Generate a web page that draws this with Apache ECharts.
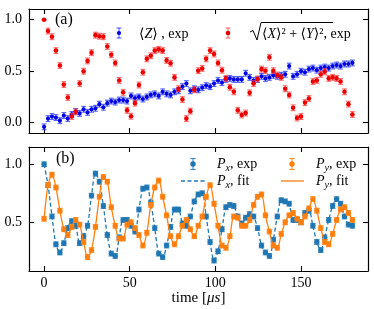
<!DOCTYPE html>
<html>
<head>
<meta charset="utf-8">
<script src="https://cdn.jsdelivr.net/npm/echarts@6/dist/echarts.min.js"></script>
<style>
  html, body { margin: 0; padding: 0; background: #fff; }
  #chart { width: 374px; height: 309px; }
</style>
</head>
<body>
<div id="chart"></div>
<script>
// 采样时间 (μs)，间隔均匀，0 ~ 180
const sampleCount = 79;
const sampleTimes = Array.from({ length: sampleCount }, (_, i) => +((i * 180) / 78).toFixed(3));

// (a) sqrt(<X>^2 + <Y>^2), exp
const coherenceList = [
  1.0, 0.89, 0.835, 0.7, 0.555, 0.37, 0.245, 0.06, 0.105, 0.38,
  0.5, 0.6, 0.68, 0.85, 0.84, 0.835, 0.74, 0.66, 0.58, 0.41,
  0.295, 0.12, 0.063, 0.19, 0.366, 0.49, 0.62, 0.65, 0.7, 0.712,
  0.7, 0.605, 0.577, 0.44, 0.33, 0.225, 0.04, 0.112, 0.32, 0.505,
  0.527, 0.62, 0.7, 0.667, 0.58, 0.51, 0.43, 0.344, 0.3, 0.12,
  0.075, 0.094, 0.29, 0.38, 0.424, 0.52, 0.505, 0.635, 0.505, 0.463,
  0.44, 0.33, 0.269, 0.145, 0.045, 0.06, 0.195, 0.235, 0.4, 0.41,
  0.47, 0.495, 0.43, 0.44, 0.43, 0.4, 0.3, 0.18, 0.08,
];
// (a) <Z>, exp
const zList = [
  -0.04, 0.04, 0.06, 0.05, 0.02, 0.07, 0.04, 0.08, 0.11, 0.09,
  0.13, 0.1, 0.13, 0.14, 0.18, 0.15, 0.19, 0.21, 0.2, 0.22,
  0.22, 0.21, 0.26, 0.24, 0.25, 0.23, 0.25, 0.27, 0.28, 0.26,
  0.3, 0.28, 0.27, 0.3, 0.31, 0.35, 0.38, 0.31, 0.33, 0.32,
  0.34, 0.36, 0.35, 0.38, 0.41, 0.39, 0.42, 0.43, 0.42, 0.42,
  0.42, 0.48, 0.44, 0.41, 0.42, 0.45, 0.43, 0.44, 0.46, 0.45,
  0.46, 0.47, 0.55, 0.45, 0.47, 0.5, 0.49, 0.52, 0.53, 0.51,
  0.53, 0.54, 0.53, 0.55, 0.56, 0.55, 0.57, 0.57, 0.58,
];
// (b) Px, exp
const pxList = [
  1.0, 0.82, 0.55, 0.31, 0.24, 0.32, 0.45, 0.51, 0.47, 0.32,
  0.38, 0.47, 0.73, 0.92, 0.85, 0.64, 0.39, 0.23, 0.21, 0.37,
  0.52, 0.52, 0.47, 0.42, 0.61, 0.79, 0.8, 0.67, 0.45, 0.23,
  0.2, 0.3, 0.46, 0.61, 0.61, 0.49, 0.47, 0.55, 0.68, 0.74,
  0.75, 0.55, 0.33, 0.17, 0.25, 0.44, 0.63, 0.65, 0.64, 0.55,
  0.49, 0.54, 0.57, 0.55, 0.45, 0.3, 0.24, 0.21, 0.35, 0.55,
  0.69, 0.68, 0.66, 0.52, 0.52, 0.5, 0.58, 0.6, 0.47, 0.33,
  0.26, 0.37, 0.52, 0.64, 0.7, 0.66, 0.55, 0.48, 0.47,
];
// (b) Py, exp
const pyList = [
  0.53, 0.82, 0.91, 0.8, 0.6, 0.44, 0.39, 0.46, 0.52, 0.48,
  0.33, 0.2, 0.26, 0.46, 0.72, 0.89, 0.85, 0.63, 0.47, 0.36,
  0.36, 0.48, 0.5, 0.45, 0.39, 0.3, 0.41, 0.65, 0.8, 0.86,
  0.72, 0.56, 0.38, 0.31, 0.38, 0.47, 0.52, 0.44, 0.38, 0.47,
  0.55, 0.72, 0.82, 0.66, 0.47, 0.3, 0.28, 0.38, 0.55, 0.54,
  0.47, 0.47, 0.52, 0.65, 0.72, 0.74, 0.56, 0.42, 0.3, 0.28,
  0.4, 0.5, 0.56, 0.58, 0.53, 0.5, 0.55, 0.62, 0.7, 0.6,
  0.45, 0.33, 0.31, 0.4, 0.52, 0.61, 0.63, 0.58, 0.52,
];
// 误差棒半长
const coherenceErr = 0.028;
const zErr = 0.028;
const pErr = 0.02;

// 刻度
const timeTicks = [0, 50, 100, 150];
const topTicks = [0, 0.5, 1.0];
const bottomTicks = [0.5, 1.0];

const FONT = '"Liberation Serif", "DejaVu Serif", serif';
const SERIF = (size, style) => `${style || "normal"} normal ${size}px ${FONT}`;

(() => {
  configChart();
})();

// 误差棒 + 圆点
function errorBarItem(dotColor, barColor, radius, capHalf) {
  return function (params, api) {
    const t = api.value(0);
    const v = api.value(1);
    const e = api.value(2);
    const c = api.coord([t, v]);
    const lo = api.coord([t, v - e]);
    const hi = api.coord([t, v + e]);
    const barStyle = { stroke: barColor, lineWidth: 1.2 };
    return {
      type: "group",
      children: [
        { type: "line", shape: { x1: c[0], y1: lo[1], x2: c[0], y2: hi[1] }, style: barStyle },
        { type: "line", shape: { x1: c[0] - capHalf, y1: lo[1], x2: c[0] + capHalf, y2: lo[1] }, style: barStyle },
        { type: "line", shape: { x1: c[0] - capHalf, y1: hi[1], x2: c[0] + capHalf, y2: hi[1] }, style: barStyle },
        { type: "circle", shape: { cx: c[0], cy: c[1], r: radius }, style: { fill: dotColor } },
      ],
    };
  };
}

// 图例里的误差棒图标
function legendBar(x, y, dotColor, barColor, radius, half, capHalf) {
  const barStyle = { stroke: barColor, lineWidth: 1.2 };
  return {
    type: "group",
    children: [
      { type: "line", shape: { x1: x, y1: y - half, x2: x, y2: y + half }, style: barStyle },
      { type: "line", shape: { x1: x - capHalf, y1: y - half, x2: x + capHalf, y2: y - half }, style: barStyle },
      { type: "line", shape: { x1: x - capHalf, y1: y + half, x2: x + capHalf, y2: y + half }, style: barStyle },
      { type: "circle", shape: { cx: x, cy: y, r: radius }, style: { fill: dotColor } },
    ],
  };
}

// P_x / P_y 图例文字
function pLabel(x, y, sub, tail) {
  return {
    type: "text",
    x: x,
    y: y,
    style: {
      text: `{p|P}{s|${sub}}{n|, ${tail}}`,
      verticalAlign: "middle",
      fill: "#000",
      rich: {
        p: { font: SERIF(14, "italic"), lineHeight: 18, verticalAlign: "middle" },
        s: { font: SERIF(10, "italic"), lineHeight: 10, verticalAlign: "bottom" },
        n: { font: SERIF(14), lineHeight: 18, verticalAlign: "middle" },
      },
    },
  };
}

function makeAxis(gridIndex, position, range, ticks, showLabel, isY) {
  return {
    type: "value",
    gridIndex,
    position,
    min: range[0],
    max: range[1],
    axisLine: { show: true, onZero: false, lineStyle: { color: "#000", width: 1.2 } },
    axisTick: {
      show: true,
      inside: true,
      length: 5,
      customValues: ticks,
      lineStyle: { color: "#000", width: 1.1 },
    },
    axisLabel: {
      show: showLabel,
      customValues: ticks,
      margin: isY ? 7 : 5,
      formatter: isY ? (v) => v.toFixed(1) : (v) => String(v),
      color: "#000",
      fontFamily: FONT,
      fontSize: 14,
    },
    splitLine: { show: false },
  };
}

function configChart() {
  const chart = echarts.init(document.getElementById("chart"), null, { renderer: "canvas" });

  const xRange = [-8.8, 189.1];
  const topRange = [-0.1, 1.104];
  const bottomRange = [0.08, 1.149];

  const toData = (vals, err) => sampleTimes.map((t, i) => [t, vals[i], err]);
  const toLine = (vals) => sampleTimes.map((t, i) => [t, vals[i]]);

  const xAxisBottom = makeAxis(1, "bottom", xRange, timeTicks, true, false);
  xAxisBottom.name = "time [{i|μs}]";
  xAxisBottom.nameLocation = "middle";
  xAxisBottom.nameGap = 20;
  xAxisBottom.nameMoveOverlap = false;
  xAxisBottom.nameTextStyle = {
    color: "#000",
    fontFamily: FONT,
    fontSize: 15,
    rich: { i: { fontFamily: FONT, fontSize: 15, fontStyle: "italic", color: "#000" } },
  };

  const option = {
    animation: false,
    backgroundColor: "#fff",
    grid: [
      { left: 29, right: 6, top: 9, height: 124, outerBoundsMode: "none" },
      { left: 29, right: 6, top: 147, height: 124, outerBoundsMode: "none" },
    ],
    xAxis: [
      makeAxis(0, "bottom", xRange, timeTicks, false, false),
      makeAxis(0, "top", xRange, timeTicks, false, false),
      xAxisBottom,
      makeAxis(1, "top", xRange, timeTicks, false, false),
    ],
    yAxis: [
      makeAxis(0, "left", topRange, topTicks, true, true),
      makeAxis(0, "right", topRange, topTicks, false, true),
      makeAxis(1, "left", bottomRange, bottomTicks, true, true),
      makeAxis(1, "right", bottomRange, bottomTicks, false, true),
    ],
    series: [
      {
        name: "<Z>, exp",
        type: "custom",
        xAxisIndex: 0,
        yAxisIndex: 0,
        clip: false,
        encode: { x: 0, y: 1 },
        renderItem: errorBarItem("#0000e6", "rgba(40,60,255,0.75)", 2.1, 2.4),
        data: toData(zList, zErr),
        z: 2,
      },
      {
        name: "sqrt(<X>^2+<Y>^2), exp",
        type: "custom",
        xAxisIndex: 0,
        yAxisIndex: 0,
        clip: false,
        encode: { x: 0, y: 1 },
        renderItem: errorBarItem("#ee0000", "rgba(255,60,60,0.7)", 2.3, 2.4),
        data: toData(coherenceList, coherenceErr).map((d, i) => (i === 0 ? [d[0], d[1], 0] : d)),
        z: 3,
      },
      {
        name: "Px, exp",
        type: "custom",
        xAxisIndex: 2,
        yAxisIndex: 2,
        clip: false,
        encode: { x: 0, y: 1 },
        renderItem: errorBarItem("#1f77b4", "rgba(31,119,180,0.8)", 2.7, 2.8),
        data: toData(pxList, pErr),
        z: 4,
      },
      {
        name: "Px, fit",
        type: "line",
        xAxisIndex: 2,
        yAxisIndex: 2,
        smooth: 0.3,
        showSymbol: false,
        lineStyle: { color: "#1f77b4", width: 1.3, type: [4, 2.5] },
        data: toLine(pxList),
        z: 5,
      },
      {
        name: "Py, exp",
        type: "custom",
        xAxisIndex: 2,
        yAxisIndex: 2,
        clip: false,
        encode: { x: 0, y: 1 },
        renderItem: errorBarItem("#ff7f0e", "rgba(255,127,14,0.8)", 2.7, 2.8),
        data: toData(pyList, pErr),
        z: 6,
      },
      {
        name: "Py, fit",
        type: "line",
        xAxisIndex: 2,
        yAxisIndex: 2,
        smooth: 0.3,
        showSymbol: false,
        lineStyle: { color: "#ff7f0e", width: 1.3 },
        data: toLine(pyList),
        z: 7,
      },
    ],
    graphic: [
      // 面板标号
      { type: "text", x: 55, y: 20, style: { text: "(a)", font: SERIF(16), fill: "#000", verticalAlign: "middle" } },
      { type: "text", x: 56, y: 159, style: { text: "(b)", font: SERIF(16), fill: "#000", verticalAlign: "middle" } },
      // (a) 图例
      legendBar(119, 33, "#0000e6", "rgba(40,60,255,0.75)", 2.1, 5, 2.4),
      {
        type: "text",
        x: 139,
        y: 34,
        style: {
          text: "{n|⟨}{i|Z}{n|⟩ , exp}",
          verticalAlign: "middle",
          fill: "#000",
          rich: {
            n: { font: SERIF(14) },
            i: { font: SERIF(14, "italic") },
          },
        },
      },
      legendBar(228, 33, "#ee0000", "rgba(255,60,60,0.7)", 2.3, 5, 2.4),
      {
        type: "polyline",
        shape: { points: [[250, 32], [253, 30.5], [257, 40], [261, 22.5], [333, 22.5]] },
        style: { stroke: "#000", lineWidth: 1, fill: null },
      },
      {
        type: "text",
        x: 262,
        y: 34,
        style: {
          text: "{n|⟨}{i|X}{n|⟩² + ⟨}{i|Y}{n|⟩², exp}",
          verticalAlign: "middle",
          fill: "#000",
          rich: {
            n: { font: SERIF(14) },
            i: { font: SERIF(14, "italic") },
          },
        },
      },
      // (b) 图例
      legendBar(193, 164, "#1f77b4", "rgba(31,119,180,0.8)", 2.7, 5.5, 2.8),
      pLabel(217, 164, "x", "exp"),
      legendBar(292, 164, "#ff7f0e", "rgba(255,127,14,0.8)", 2.7, 5.5, 2.8),
      pLabel(316, 164, "y", "exp"),
      {
        type: "line",
        shape: { x1: 181, y1: 181, x2: 205, y2: 181 },
        style: { stroke: "#1f77b4", lineWidth: 1.3, lineDash: [4, 2.5] },
      },
      pLabel(217, 181, "x", "fit"),
      {
        type: "line",
        shape: { x1: 281, y1: 181, x2: 304, y2: 181 },
        style: { stroke: "#ff7f0e", lineWidth: 1.3 },
      },
      pLabel(316, 181, "y", "fit"),
    ],
  };
  chart.setOption(option);
}
</script>
</body>
</html>
